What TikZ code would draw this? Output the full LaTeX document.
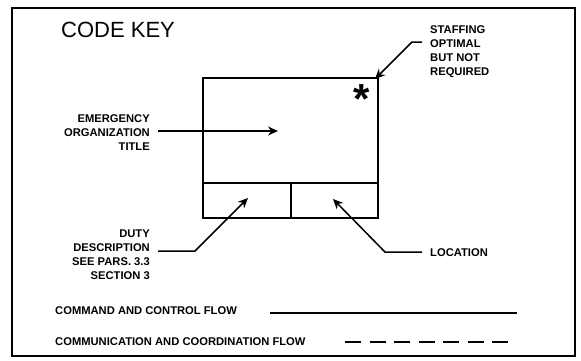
\documentclass[tikz,border=0pt]{standalone}
\usepackage{fontspec}
\setmainfont{Liberation Sans}
\usetikzlibrary{arrows.meta}
\tikzset{
  lbl/.style={inner sep=0pt, font=\fontsize{11.2}{14}\selectfont\bfseries},
  frame/.style={line width=1.6pt},
  boxline/.style={line width=1.9pt},
  ptr/.style={line width=1.5pt, -{Stealth[length=10pt,width=9pt]}},
  sample/.style={line width=2.2pt}
}
\begin{document}
\begin{tikzpicture}[x=1pt,y=-1pt]
\useasboundingbox (0,0) rectangle (581,360);
% outer frame
\draw[frame] (12,8) rectangle (575,356);
% title
\node[inner sep=0pt, anchor=west, font=\fontsize{22}{24}\selectfont] (title) at (61,29.5) {CODE KEY};
% box
\node[boxline, draw, minimum width=175pt, minimum height=105pt, inner sep=0pt, anchor=north west] (org) at (202,77) {};
\node[boxline, draw, minimum width=88pt, minimum height=35pt, inner sep=0pt, anchor=north west] (duty) at (202,182) {};
\node[boxline, draw, minimum width=87pt, minimum height=35pt, inner sep=0pt, anchor=north west] (loc) at (290,182) {};
% asterisk
\node[inner sep=0pt, anchor=base, font=\fontsize{42}{42}\selectfont\bfseries] (star) at (362,113) {*};
% labels
\node[lbl, align=right, anchor=east] (eot) at (150,133) {EMERGENCY\\ORGANIZATION\\TITLE};
\node[lbl, align=left, anchor=west] (staff) at (430,52) {STAFFING\\OPTIMAL\\BUT NOT\\REQUIRED};
\node[lbl, align=right, anchor=east] (dutyl) at (150,255) {DUTY\\DESCRIPTION\\SEE PARS. 3.3\\SECTION 3};
\node[lbl, anchor=west] (locl) at (430,253) {LOCATION};
\node[lbl, anchor=west] (cmd) at (55,311) {COMMAND AND CONTROL FLOW};
\node[lbl, anchor=west] (comm) at (55,342) {COMMUNICATION AND COORDINATION FLOW};
% pointer targets
\coordinate (eottip) at (278,131);
\coordinate (stafftip) at (375,79);
\coordinate (dutytip) at (248,198);
\coordinate (loctip) at (333,199);
% pointers
\draw[ptr] ([xshift=8pt]eot.east |- eottip) -- (eottip);
\draw[ptr] ([xshift=-8pt]staff.west |- 0,42) -- (412,42) -- (stafftip);
\draw[ptr] ([xshift=8pt]dutyl.east |- 0,251) -- (195,251) -- (dutytip);
\draw[ptr] ([xshift=-8pt]locl.west |- 0,252) -- (385,252) -- (loctip);
% legend samples
\coordinate (cmdA) at (270,313);
\coordinate (cmdB) at (517,313);
\coordinate (commA) at (345,342);
\coordinate (commB) at (510,342);
\draw[sample] (cmdA) -- (cmdB);
\draw[sample, dash pattern=on 16pt off 8.5pt] (commA) -- (commB);
\end{tikzpicture}
\end{document}
